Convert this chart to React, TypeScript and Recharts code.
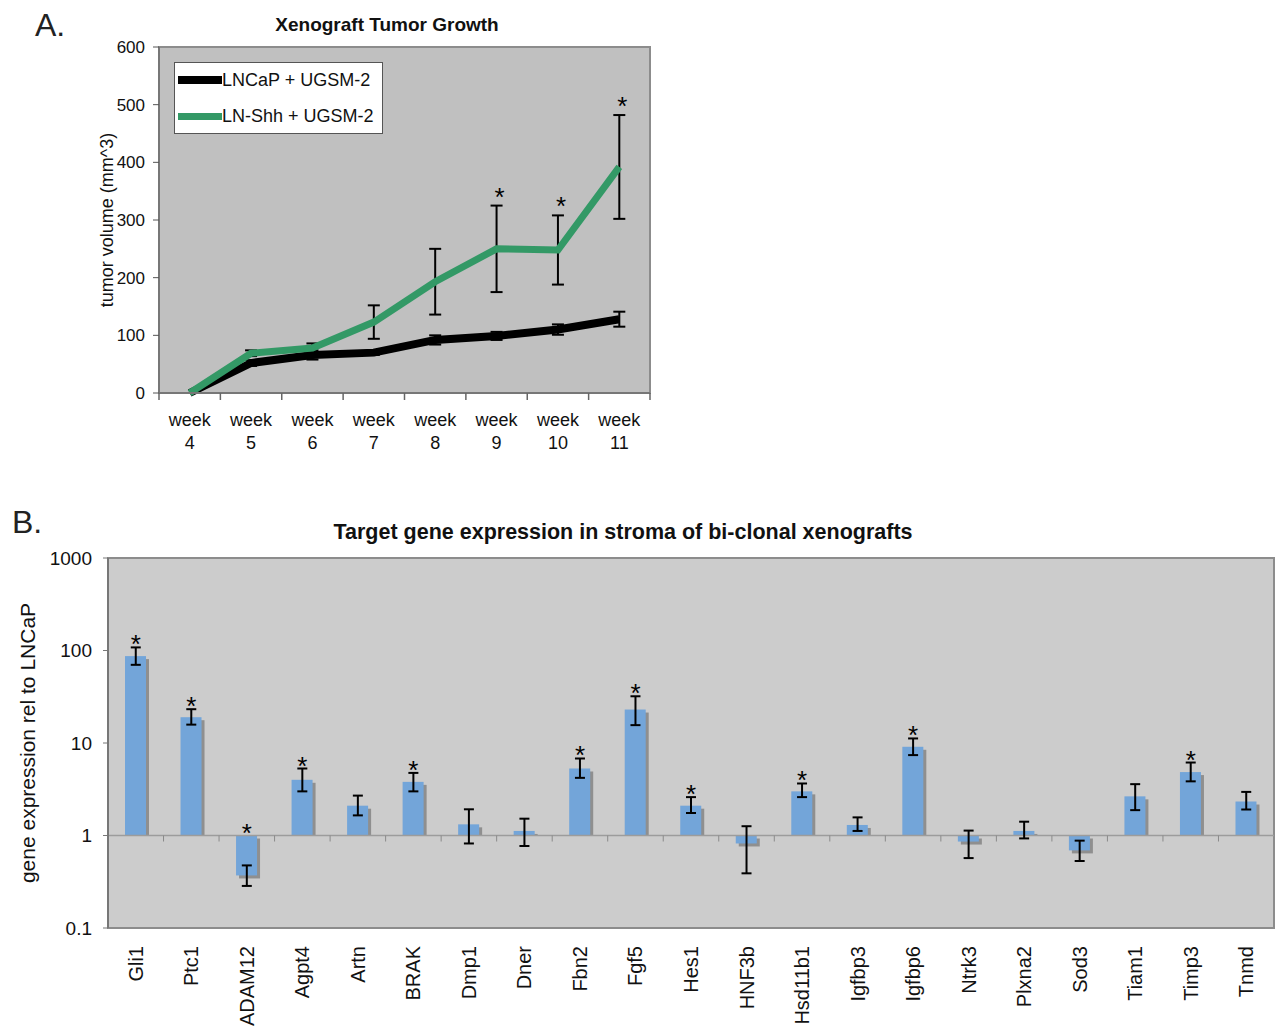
import React from "react";
import {
  Bar,
  ComposedChart,
  CartesianGrid,
  ErrorBar,
  LabelList,
  Legend,
  Line,
  ReferenceArea,
  ReferenceLine,
  XAxis,
  YAxis,
} from "recharts";

// panel A: tumor volume (mm^3) per week
const weeks = ["week 4", "week 5", "week 6", "week 7", "week 8", "week 9", "week 10", "week 11"];
const seriesNames = ["LNCaP + UGSM-2", "LN-Shh + UGSM-2"];
const lncap = [0, 52, 66, 70, 92, 99, 110, 128];
const lncapErr = [null, 5, 8, 4, 8, 7, 9, 13];
const lnShh = [0, 69, 78, 123, 193, 250, 248, 392];
const lnShhErr = [null, 5, 8, 29, 57, 75, 60, 90];
const growthSig = [false, false, false, false, false, true, true, true];
const volumeTicks = [0, 100, 200, 300, 400, 500, 600];

// panel B: expression relative to LNCaP
const genes = ["Gli1", "Ptc1", "ADAM12", "Agpt4", "Artn", "BRAK", "Dmp1", "Dner", "Fbn2", "Fgf5", "Hes1", "HNF3b", "Hsd11b1", "Igfbp3", "Igfbp6", "Ntrk3", "Plxna2", "Sod3", "Tiam1", "Timp3", "Tnmd"];
const expression = [87, 19, 0.37, 4.0, 2.1, 3.8, 1.32, 1.12, 5.3, 23, 2.1, 0.82, 3.0, 1.3, 9.1, 0.86, 1.12, 0.69, 2.65, 4.85, 2.33];
const errLow = [17, 3.2, 0.085, 1.0, 0.45, 0.8, 0.5, 0.35, 1.1, 7.4, 0.35, 0.43, 0.4, 0.18, 1.7, 0.29, 0.19, 0.16, 0.77, 1.0, 0.42];
const errHigh = [21, 4.2, 0.105, 1.3, 0.6, 0.95, 0.6, 0.4, 1.5, 9, 0.5, 0.44, 0.65, 0.27, 2.1, 0.27, 0.29, 0.19, 0.94, 1.3, 0.63];
const geneSig = [true, true, true, true, false, true, false, false, true, true, true, false, true, false, true, false, false, false, false, true, false];
const logTicks = [0.1, 1, 10, 100, 1000];

const growthRows = weeks.map((week, i) => ({
  week,
  lncap: lncap[i],
  lncapErr: lncapErr[i],
  lnShh: lnShh[i],
  lnShhErr: lnShhErr[i],
  star: growthSig[i] ? lnShh[i] + (lnShhErr[i] ?? 0) : null,
}));

const geneRows = genes.map((gene, i) => ({
  gene,
  value: expression[i],
  bar: [Math.min(1, expression[i]), Math.max(1, expression[i])],
  err: [errLow[i], errHigh[i]],
  star: geneSig[i] ? Math.max(1, expression[i] + errHigh[i]) : null,
}));

const FONT = "'Liberation Sans', Arial, sans-serif";

const axisTitle = (text: string, dx: number, size: number) => (p: any) => {
  const vb = p.viewBox || {};
  const x = (vb.x ?? 0) + dx;
  const y = (vb.y ?? 0) + (vb.height ?? 0) / 2;
  return (
    <text x={x} y={y} transform={`rotate(-90 ${x} ${y})`} textAnchor="middle" dy="0.35em" fontSize={size} fill="#111" fontFamily={FONT}>
      {text}
    </text>
  );
};

const starLabel = (dx: number, dy: number) => (p: any) => {
  if (p.value == null) return null;
  const x = p.x ?? p.viewBox?.x;
  const y = p.y ?? p.viewBox?.y;
  if (x == null || y == null) return null;
  return (
    <text x={x + dx} y={y + dy} textAnchor="middle" fontSize={26} fill="#000" fontFamily={FONT}>
      *
    </text>
  );
};

function WeekTick(props: any) {
  const { x, y, payload, index, visibleTicksCount } = props;
  const half = payload.offset ?? 0;
  const [word, num] = String(payload.value).split(" ");
  return (
    <g>
      <line x1={x - half} x2={x - half} y1={y} y2={y + 7} stroke="#666" strokeWidth={1.5} />
      {index === visibleTicksCount - 1 && <line x1={x + half} x2={x + half} y1={y} y2={y + 7} stroke="#666" strokeWidth={1.5} />}
      <text x={x} y={y + 33} textAnchor="middle" fontSize={18} fill="#111" fontFamily={FONT}>{word}</text>
      <text x={x} y={y + 56} textAnchor="middle" fontSize={18} fill="#111" fontFamily={FONT}>{num}</text>
    </g>
  );
}

function GeneTick({ x, y, payload }: any) {
  return (
    <text x={x} y={y} transform={`rotate(-90 ${x} ${y})`} textAnchor="end" dy="0.35em" fontSize={20} fill="#111" fontFamily={FONT}>
      {payload.value}
    </text>
  );
}

function ShadowBar(props: any) {
  const { x, y, width, height, payload } = props;
  if (x == null || y == null || !height) return null;
  const down = payload && payload.value < 1;
  return (
    <g>
      <rect x={x + 3} y={y + 3} width={width} height={down ? height : Math.max(height - 3, 0)} fill="#8f8f8f" />
      <rect x={x} y={y} width={width} height={height} fill="#73a5d9" />
    </g>
  );
}

function BaselineAtOne(p: any) {
  const { x1, y1, x2 } = p;
  if (x1 == null) return null;
  const step = (x2 - x1) / genes.length;
  return (
    <g>
      <line x1={x1} x2={x2} y1={y1} y2={y1} stroke="#9c9c9c" strokeWidth={1.5} />
      {genes.slice(1).map((_, i) => (
        <line key={i} x1={x1 + step * (i + 1)} x2={x1 + step * (i + 1)} y1={y1} y2={y1 + 6} stroke="#8a8a8a" strokeWidth={1} />
      ))}
    </g>
  );
}

function GrowthLegend({ payload }: any) {
  const items = (payload ?? [])
    .filter((item: any) => seriesNames.includes(item.value))
    .sort((a: any, b: any) => seriesNames.indexOf(a.value) - seriesNames.indexOf(b.value));
  return (
    <div style={{ width: 207, height: 70, background: "#fff", border: "1px solid #555", position: "relative", fontFamily: FONT }}>
      {items.map((item: any, i: number) => (
        <div key={i} style={{ position: "absolute", left: 3, top: 8 + i * 36, height: 18, display: "flex", alignItems: "center" }}>
          <div style={{ width: 44, height: i === 0 ? 8 : 7, background: item.color }} />
          <span style={{ fontSize: 18, lineHeight: "18px", color: "#111", whiteSpace: "nowrap" }}>{item.value}</span>
        </div>
      ))}
    </div>
  );
}

export default function App() {
  return (
    <div style={{ position: "absolute", left: 0, top: 0, width: 1280, height: 1030, background: "#fff", fontFamily: FONT }}>
      <div style={{ position: "absolute", left: 35, top: 9, fontSize: 32, lineHeight: "32px", color: "#222" }}>A.</div>
      <div style={{ position: "absolute", left: 0, top: 15, width: 774, textAlign: "center", fontSize: 19, lineHeight: "19px", fontWeight: "bold", color: "#111" }}>
        Xenograft Tumor Growth
      </div>
      <div style={{ position: "absolute", left: 0, top: 0 }}>
        <ComposedChart width={680} height={470} data={growthRows} margin={{ top: 47, right: 30, bottom: 7, left: 0 }}>
          <CartesianGrid fill="#c0c0c0" stroke="none" horizontal={false} vertical={false} />
          <ReferenceArea y1={0} y2={600} fill="none" stroke="#8c8c8c" strokeWidth={2} />
          <XAxis
            dataKey="week"
            scale="band"
            interval={0}
            height={70}
            tickLine={false}
            tickSize={0}
            tickMargin={0}
            axisLine={{ stroke: "#777", strokeWidth: 2 }}
            tick={<WeekTick />}
          />
          <YAxis
            type="number"
            domain={[0, 600]}
            ticks={volumeTicks}
            width={159}
            tickSize={6}
            tickMargin={8}
            axisLine={{ stroke: "#777", strokeWidth: 2 }}
            tickLine={{ stroke: "#555" }}
            tick={{ fontSize: 17, fill: "#111", fontFamily: FONT }}
            label={{ content: axisTitle("tumor volume (mm^3)", 107, 18) }}
          />
          <Line dataKey="lncap" name={seriesNames[0]} stroke="#000" strokeWidth={8} dot={false} activeDot={false} isAnimationActive={false}>
            <ErrorBar dataKey="lncapErr" direction="y" width={6} stroke="#000" strokeWidth={2} />
          </Line>
          <Line dataKey="lnShh" name={seriesNames[1]} stroke="#339966" strokeWidth={7} dot={false} activeDot={false} isAnimationActive={false}>
            <ErrorBar dataKey="lnShhErr" direction="y" width={6} stroke="#000" strokeWidth={2} />
          </Line>
          <Line dataKey="star" stroke="none" dot={false} activeDot={false} legendType="none" isAnimationActive={false}>
            <LabelList dataKey="star" content={starLabel(3, 0)} />
          </Line>
          <Legend
            layout="vertical"
            align="center"
            verticalAlign="middle"
            content={<GrowthLegend />}
            wrapperStyle={{ left: 174, top: 62, width: 209, height: 72 }}
          />
        </ComposedChart>
      </div>

      <div style={{ position: "absolute", left: 12, top: 506, fontSize: 32, lineHeight: "32px", color: "#222" }}>B.</div>
      <div style={{ position: "absolute", left: 0, top: 522, width: 1246, textAlign: "center", fontSize: 21.5, lineHeight: "21.5px", fontWeight: "bold", color: "#111" }}>
        Target gene expression in stroma of bi-clonal xenografts
      </div>
      <div style={{ position: "absolute", left: 0, top: 500 }}>
        <ComposedChart width={1280} height={530} data={geneRows} margin={{ top: 58, right: 6, bottom: 0, left: 0 }}>
          <CartesianGrid fill="#cccccc" stroke="none" horizontal={false} vertical={false} />
          <ReferenceArea y1={0.1} y2={1000} fill="none" stroke="#8c8c8c" strokeWidth={2} />
          <ReferenceLine y={1} shape={<BaselineAtOne />} />
          <XAxis
            dataKey="gene"
            interval={0}
            height={102}
            tickLine={false}
            axisLine={false}
            tickSize={0}
            tickMargin={18}
            tick={<GeneTick />}
          />
          <YAxis
            type="number"
            scale="log"
            domain={[0.1, 1000]}
            ticks={logTicks}
            allowDataOverflow
            width={108}
            tickSize={5}
            tickMargin={11}
            tickFormatter={(v: number) => String(v)}
            axisLine={{ stroke: "#777", strokeWidth: 2 }}
            tickLine={{ stroke: "#777" }}
            tick={{ fontSize: 19, fill: "#111", fontFamily: FONT }}
            label={{ content: axisTitle("gene expression rel to LNCaP", 28, 21) }}
          />
          <Bar dataKey="bar" barSize={21} shape={<ShadowBar />} isAnimationActive={false} />
          <Line dataKey="value" stroke="none" dot={false} activeDot={false} legendType="none" isAnimationActive={false}>
            <ErrorBar dataKey="err" direction="y" width={5} stroke="#000" strokeWidth={2} />
          </Line>
          <Line dataKey="star" stroke="none" dot={false} activeDot={false} legendType="none" isAnimationActive={false}>
            <LabelList dataKey="star" content={starLabel(0, 6)} />
          </Line>
        </ComposedChart>
      </div>
    </div>
  );
}
